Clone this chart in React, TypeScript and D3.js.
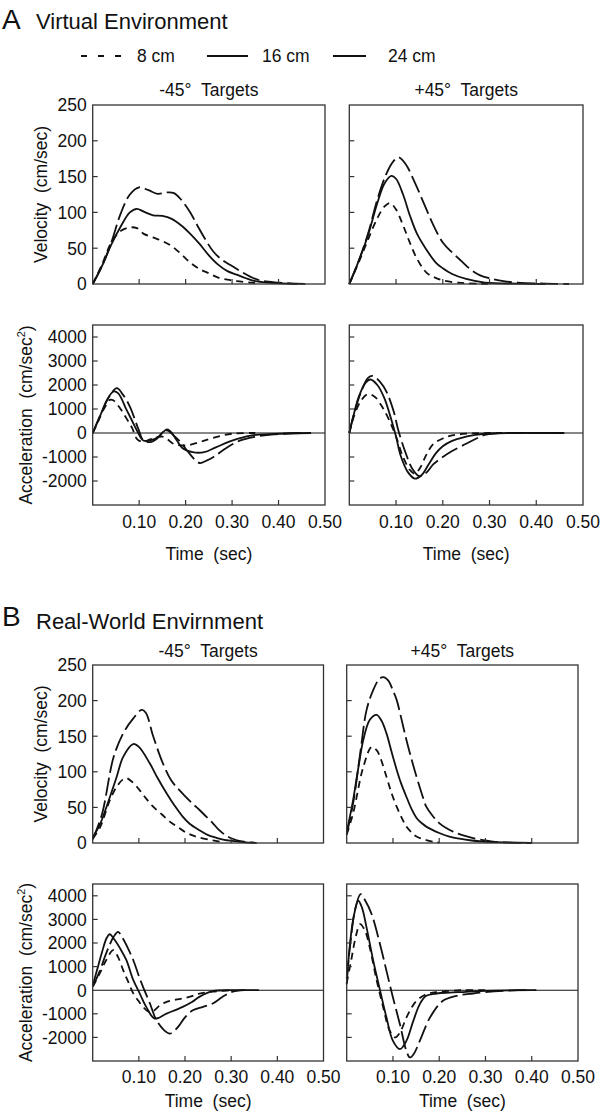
import React from "react";
import * as d3 from "d3";

type Pt = [number, number];

// ---------- Data (time in sec, value) ----------
// A: Virtual environment, velocity
const velA_m45_8: Pt[] = [[0,0],[0.02,27],[0.04,58],[0.06,74],[0.08,79],[0.095,78],[0.11,70],[0.13,65],[0.15,60],[0.17,53],[0.19,42],[0.21,30],[0.23,21],[0.25,15],[0.27,9],[0.29,6],[0.31,4],[0.34,2],[0.36,0.5]];
const velA_m45_16: Pt[] = [[0,0],[0.02,25],[0.04,55],[0.06,80],[0.08,100],[0.095,105],[0.11,101],[0.13,96],[0.15,95],[0.17,91],[0.19,82],[0.21,70],[0.23,56],[0.25,40],[0.27,27],[0.29,18],[0.31,13],[0.33,8],[0.35,4],[0.38,2],[0.42,0.5],[0.44,0]];
const velA_m45_24: Pt[] = [[0,0],[0.02,25],[0.04,58],[0.06,98],[0.08,125],[0.1,135],[0.12,131],[0.14,126],[0.16,128],[0.175,127],[0.19,118],[0.21,100],[0.225,82],[0.24,65],[0.26,45],[0.28,33],[0.3,25],[0.32,17],[0.34,10],[0.36,5],[0.4,2],[0.46,0]];
const velA_p45_8: Pt[] = [[0,0],[0.02,30],[0.04,62],[0.06,92],[0.075,108],[0.087,113],[0.1,104],[0.115,82],[0.13,57],[0.145,35],[0.165,16],[0.18,10],[0.2,5],[0.24,1.5],[0.28,0.5],[0.3,0]];
const velA_p45_16: Pt[] = [[0,0],[0.02,32],[0.04,68],[0.06,113],[0.075,140],[0.09,151],[0.1,147],[0.115,125],[0.13,95],[0.145,70],[0.165,48],[0.185,30],[0.2,22],[0.22,14],[0.25,7],[0.29,2],[0.36,0.5],[0.42,0]];
const velA_p45_24: Pt[] = [[0,0],[0.02,32],[0.04,70],[0.06,118],[0.08,155],[0.095,172],[0.105,177],[0.12,168],[0.14,142],[0.16,112],[0.18,82],[0.2,58],[0.22,44],[0.24,32],[0.26,20],[0.28,12],[0.3,8],[0.33,4],[0.36,2],[0.42,0.5],[0.47,0]];
// A: acceleration
const accA_m45_8: Pt[] = [[0,0],[0.01,400],[0.02,850],[0.03,1200],[0.037,1380],[0.045,1350],[0.06,1000],[0.073,600],[0.085,200],[0.095,-240],[0.109,-380],[0.12,-300],[0.138,-170],[0.15,-150],[0.16,-250],[0.174,-450],[0.2,-520],[0.23,-380],[0.26,-200],[0.3,-30],[0.35,0]];
const accA_m45_16: Pt[] = [[0,0],[0.01,450],[0.02,900],[0.03,1350],[0.045,1730],[0.055,1650],[0.073,960],[0.085,500],[0.095,110],[0.109,-310],[0.125,-300],[0.14,-180],[0.152,50],[0.16,150],[0.168,60],[0.18,-280],[0.195,-660],[0.215,-800],[0.24,-800],[0.265,-600],[0.3,-320],[0.34,-110],[0.38,-50],[0.44,-10],[0.47,0]];
const accA_m45_24: Pt[] = [[0,0],[0.01,450],[0.02,900],[0.035,1500],[0.052,1870],[0.065,1600],[0.08,1100],[0.098,180],[0.109,-310],[0.124,-380],[0.138,-240],[0.152,40],[0.16,110],[0.174,-100],[0.19,-400],[0.203,-730],[0.23,-1250],[0.245,-1150],[0.26,-1000],[0.29,-590],[0.318,-310],[0.346,-170],[0.39,-56],[0.45,0]];
const accA_p45_8: Pt[] = [[0,0],[0.01,700],[0.025,1350],[0.04,1620],[0.055,1500],[0.07,1100],[0.085,550],[0.1,-150],[0.115,-1000],[0.13,-1550],[0.14,-1700],[0.15,-1500],[0.165,-900],[0.18,-450],[0.2,-230],[0.22,-100],[0.25,-30],[0.3,0],[0.46,0]];
const accA_p45_16: Pt[] = [[0,0],[0.01,800],[0.02,1500],[0.035,2100],[0.045,2230],[0.06,2000],[0.075,1450],[0.09,550],[0.1,-150],[0.11,-950],[0.125,-1620],[0.14,-1900],[0.155,-1750],[0.17,-1300],[0.185,-850],[0.2,-550],[0.22,-330],[0.24,-200],[0.27,-80],[0.3,-20],[0.35,0],[0.45,0]];
const accA_p45_24: Pt[] = [[0,0],[0.01,800],[0.025,1700],[0.04,2300],[0.05,2380],[0.065,2150],[0.08,1700],[0.095,900],[0.105,100],[0.12,-800],[0.135,-1500],[0.15,-1800],[0.165,-1650],[0.18,-1300],[0.2,-1000],[0.22,-750],[0.25,-450],[0.27,-250],[0.29,-80],[0.31,-20],[0.35,0],[0.46,0]];
// B: Real-world environment, velocity
const velB_m45_8: Pt[] = [[0,6],[0.016,22],[0.037,60],[0.052,79],[0.065,89],[0.073,91],[0.085,86],[0.102,74],[0.115,63],[0.131,51],[0.15,40],[0.167,30],[0.185,22],[0.2,15.5],[0.215,11],[0.231,7.5],[0.26,3.7],[0.275,2]];
const velB_m45_16: Pt[] = [[0,8],[0.015,25],[0.03,51],[0.052,93],[0.066,121],[0.0876,139],[0.1,135],[0.1236,112],[0.14,92],[0.16,70],[0.178,52],[0.195,37],[0.21,27],[0.231,18],[0.25,11],[0.267,7.5],[0.285,4.5],[0.303,3],[0.33,1],[0.35,0.5]];
const velB_m45_24: Pt[] = [[0,5],[0.02,40],[0.045,120],[0.066,154],[0.088,175],[0.106,187],[0.115,183],[0.131,150],[0.152,112],[0.17,88],[0.181,79],[0.2,66],[0.217,55],[0.232,46],[0.246,37],[0.26,28],[0.274,18],[0.29,10],[0.303,6],[0.32,2.5],[0.355,0]];
const velB_p45_8: Pt[] = [[0,12],[0.014,42],[0.036,107],[0.054,135],[0.065,130],[0.072,121],[0.086,93],[0.097,70],[0.108,51],[0.12,34],[0.129,23],[0.14,15],[0.151,9],[0.172,4],[0.19,1.5],[0.2,0.5]];
const velB_p45_16: Pt[] = [[0,15],[0.014,61],[0.025,105],[0.036,145],[0.05,173],[0.0647,180],[0.075,172],[0.086,154],[0.097,128],[0.108,103],[0.118,83],[0.129,65],[0.14,48],[0.151,35],[0.162,28],[0.172,23],[0.2,14],[0.222,9],[0.244,6],[0.27,3.5],[0.295,2],[0.35,0.8],[0.4,0.3]];
const velB_p45_24: Pt[] = [[0,12],[0.015,60],[0.03,130],[0.043,187],[0.0575,215],[0.07,230],[0.079,233],[0.09,228],[0.1,214],[0.108,201],[0.118,175],[0.129,145],[0.14,118],[0.151,93],[0.162,70],[0.172,51],[0.186,38],[0.2,28],[0.215,21],[0.23,16],[0.25,11],[0.273,7],[0.295,4],[0.316,2],[0.35,0.5],[0.4,0]];
// B: acceleration
const accB_m45_8: Pt[] = [[0,150],[0.015,700],[0.03,1300],[0.0445,1700],[0.055,1400],[0.066,850],[0.077,350],[0.088,-140],[0.099,-450],[0.109,-706],[0.12,-900],[0.13,-900],[0.145,-650],[0.16,-495],[0.18,-400],[0.195,-353],[0.215,-250],[0.231,-141],[0.26,-60],[0.3,0]];
const accB_m45_16: Pt[] = [[0,200],[0.01,900],[0.02,1600],[0.03,2200],[0.037,2370],[0.045,2200],[0.06,1750],[0.073,1270],[0.088,424],[0.102,-141],[0.116,-706],[0.134,-1200],[0.16,-990],[0.195,-706],[0.215,-500],[0.231,-283],[0.26,-42],[0.3,0],[0.36,0]];
const accB_m45_24: Pt[] = [[0,150],[0.015,800],[0.03,1600],[0.045,2250],[0.055,2470],[0.065,2200],[0.077,1750],[0.088,1270],[0.1,600],[0.109,141],[0.124,-565],[0.138,-1270],[0.155,-1700],[0.167,-1837],[0.178,-1700],[0.188,-1480],[0.2,-1150],[0.217,-850],[0.239,-706],[0.26,-565],[0.28,-300],[0.3,-80],[0.33,0]];
const accB_p45_8: Pt[] = [[0,300],[0.01,1300],[0.02,2300],[0.029,2800],[0.04,2500],[0.05,1800],[0.065,400],[0.079,-730],[0.093,-1720],[0.105,-2000],[0.115,-1800],[0.129,-1160],[0.14,-750],[0.151,-450],[0.172,-170],[0.2,-70],[0.25,0],[0.3,0]];
const accB_p45_16: Pt[] = [[0,250],[0.007,1950],[0.015,3100],[0.025,3790],[0.033,3500],[0.043,2650],[0.0575,1240],[0.072,0],[0.086,-1160],[0.1,-2150],[0.115,-2500],[0.129,-2150],[0.144,-1300],[0.158,-590],[0.172,-240],[0.194,-140],[0.222,-100],[0.258,-70],[0.3,-28],[0.4,0]];
const accB_p45_24: Pt[] = [[0,500],[0.008,2000],[0.018,3400],[0.03,4070],[0.04,3800],[0.054,3220],[0.072,1950],[0.086,820],[0.1,-310],[0.115,-1440],[0.129,-2570],[0.1365,-2850],[0.145,-2700],[0.158,-2150],[0.18,-1160],[0.208,-450],[0.237,-240],[0.273,-140],[0.3,-85],[0.37,0],[0.41,0]];

// ---------- Axis / label config ----------
const legendLabels = ["8 cm", "16 cm", "24 cm"];
const dashes = ["7,5", "", "18,5"];
const timeTicks = [0.1, 0.2, 0.3, 0.4, 0.5];
const velTicks = [0, 50, 100, 150, 200, 250];
const accTicks = [-2000, -1000, 0, 1000, 2000, 3000, 4000];
const velDomain: [number, number] = [0, 250];
const accDomain: [number, number] = [-3000, 4500];
const panelTitles = ["-45°  Targets", "+45°  Targets"];

const FONT = "'Liberation Sans', Arial, Helvetica, sans-serif";
const INK = "#111";

interface PanelProps {
  x0: number; x1: number; y0: number; y1: number;
  domain: [number, number];
  ticks: number[];
  yLabels: boolean;
  xLabels: boolean;
  xLabelOffset: number;
  zero: boolean;
  series: Pt[][];
}

function Panel(p: PanelProps) {
  const x = d3.scaleLinear().domain([0, 0.5]).range([p.x0, p.x1]);
  const y = d3.scaleLinear().domain(p.domain).range([p.y1, p.y0]);
  const line = d3.line<Pt>().x(d => x(d[0])).y(d => y(d[1])).curve(d3.curveCatmullRom.alpha(0.5));
  const fmt = d3.format(".2f");
  return (
    <g>
      {p.series.map((s, i) => (
        <path key={i} d={line(s) || ""} fill="none" stroke={INK} strokeWidth={1.8}
          strokeDasharray={dashes[i] || undefined} />
      ))}
      {p.zero && (
        <line x1={p.x0} x2={p.x1} y1={y(0)} y2={y(0)} stroke={INK} strokeWidth={1.1} />
      )}
      <rect x={p.x0} y={p.y0} width={p.x1 - p.x0} height={p.y1 - p.y0} fill="none" stroke="#333" strokeWidth={1.3} />
      {timeTicks.filter(t => t < 0.5).map(t => (
        <line key={t} x1={x(t)} x2={x(t)} y1={p.y1} y2={p.y1 - 5} stroke="#333" strokeWidth={1.2} />
      ))}
      {p.ticks.filter(v => v !== 0 && y(v) > p.y0 + 2 && y(v) < p.y1 - 2).map(v => (
        <line key={v} x1={p.x0} x2={p.x0 + 5} y1={y(v)} y2={y(v)} stroke="#333" strokeWidth={1.2} />
      ))}
      {p.yLabels && p.ticks.map(v => (
        <text key={v} x={p.x0 - 6} y={y(v)} dy="0.36em" textAnchor="end" fontSize={17.5} fontFamily={FONT} fill={INK}>{v}</text>
      ))}
      {p.xLabels && timeTicks.map(t => (
        <text key={t} x={x(t)} y={p.y1 + p.xLabelOffset} textAnchor="middle" fontSize={17.5} fontFamily={FONT} fill={INK}>{fmt(t)}</text>
      ))}
    </g>
  );
}

interface SectionProps {
  letter: string; title: string;
  letterY: number; titleY: number;
  panelTitleY: number;
  left: [number, number]; right: [number, number];
  vel: [number, number]; acc: [number, number];
  velSeries: [Pt[][], Pt[][]];
  accSeries: [Pt[][], Pt[][]];
  tickLabelOff: number; timeLabelOff: number;
}

function Section(s: SectionProps) {
  const cols = [s.left, s.right];
  const velMid = (s.vel[0] + s.vel[1]) / 2;
  const accMid = (s.acc[0] + s.acc[1]) / 2;
  return (
    <g>
      <text x={2} y={s.letterY} fontSize={28} fontFamily={FONT} fill={INK}>{s.letter}</text>
      <text x={36} y={s.titleY} fontSize={22} fontFamily={FONT} fill={INK}>{s.title}</text>
      {cols.map((c, i) => (
        <text key={"t" + i} x={(c[0] + c[1]) / 2} y={s.panelTitleY} textAnchor="middle" fontSize={17.5} fontFamily={FONT} fill={INK} style={{ whiteSpace: "pre" }}>{panelTitles[i]}</text>
      ))}
      {cols.map((c, i) => (
        <Panel key={"v" + i} x0={c[0]} x1={c[1]} y0={s.vel[0]} y1={s.vel[1]} domain={velDomain} ticks={velTicks}
          yLabels={i === 0} xLabels={false} xLabelOffset={0} zero={false} series={s.velSeries[i]} />
      ))}
      {cols.map((c, i) => (
        <Panel key={"a" + i} x0={c[0]} x1={c[1]} y0={s.acc[0]} y1={s.acc[1]} domain={accDomain} ticks={accTicks}
          yLabels={i === 0} xLabels={true} xLabelOffset={s.tickLabelOff} zero={true} series={s.accSeries[i]} />
      ))}
      <text transform={`translate(47,${velMid}) rotate(-90)`} textAnchor="middle" fontSize={17.5} fontFamily={FONT} fill={INK} style={{ whiteSpace: "pre" }}>Velocity  (cm/sec)</text>
      <text transform={`translate(32,${accMid}) rotate(-90)`} textAnchor="middle" fontSize={17.5} fontFamily={FONT} fill={INK} style={{ whiteSpace: "pre" }}>
        Acceleration  (cm/sec<tspan fontSize={11} dy={-7}>2</tspan><tspan dy={7}>)</tspan>
      </text>
      {cols.map((c, i) => (
        <text key={"x" + i} x={(c[0] + c[1]) / 2} y={s.acc[1] + s.timeLabelOff} textAnchor="middle" fontSize={17.5} fontFamily={FONT} fill={INK} style={{ whiteSpace: "pre" }}>Time  (sec)</text>
      ))}
    </g>
  );
}

function Legend() {
  const items = [
    { x1: 81, x2: 122, tx: 137 },
    { x1: 207, x2: 248, tx: 262 },
    { x1: 333, x2: 366, tx: 388 },
  ];
  return (
    <g>
      {items.map((it, i) => (
        <g key={i}>
          <line x1={it.x1} x2={it.x2} y1={56} y2={56} stroke={INK} strokeWidth={1.8} strokeDasharray={i === 0 ? "6,11" : undefined} />
          <text x={it.tx} y={62} fontSize={17.5} fontFamily={FONT} fill={INK}>{legendLabels[i]}</text>
        </g>
      ))}
    </g>
  );
}

export default function App() {
  return (
    <svg width={600} height={1119} style={{ position: "absolute", left: 0, top: 0, background: "#fff" }}>
      <rect width={600} height={1119} fill="#fff" />
      <Legend />
      <Section letter="A" title="Virtual Environment" letterY={29} titleY={29} panelTitleY={96}
        left={[92.7, 325]} right={[349.3, 583]} vel={[105, 284]} acc={[325, 505]}
        velSeries={[[velA_m45_8, velA_m45_16, velA_m45_24], [velA_p45_8, velA_p45_16, velA_p45_24]]}
        accSeries={[[accA_m45_8, accA_m45_16, accA_m45_24], [accA_p45_8, accA_p45_16, accA_p45_24]]}
        tickLabelOff={23} timeLabelOff={55} />
      <Section letter="B" title="Real-World Envirnment" letterY={626} titleY={629} panelTitleY={657}
        left={[92.7, 323.5]} right={[346.7, 578]} vel={[665, 843]} acc={[884, 1061]}
        velSeries={[[velB_m45_8, velB_m45_16, velB_m45_24], [velB_p45_8, velB_p45_16, velB_p45_24]]}
        accSeries={[[accB_m45_8, accB_m45_16, accB_m45_24], [accB_p45_8, accB_p45_16, accB_p45_24]]}
        tickLabelOff={22} timeLabelOff={46} />
    </svg>
  );
}
